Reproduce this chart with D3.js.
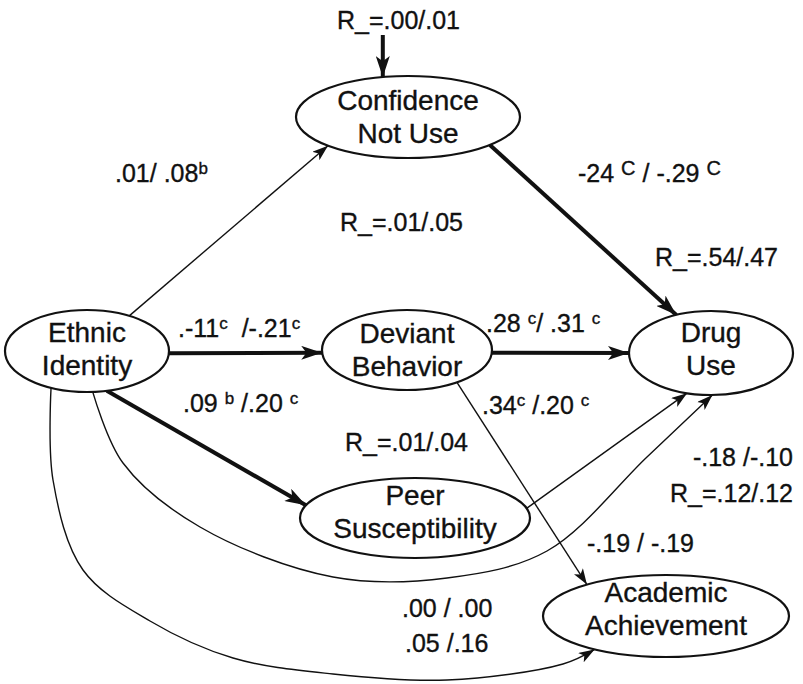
<!DOCTYPE html>
<html>
<head>
<meta charset="utf-8">
<script src="https://cdn.jsdelivr.net/npm/d3@7"></script>
<style>
  body { margin: 0; background: #fff; }
  text { font-family: "Liberation Sans", Arial, Helvetica, sans-serif; fill: #111; stroke: #111; stroke-width: 0.35px; }
</style>
</head>
<body>
<svg id="chart" width="803" height="684"></svg>
<script>
// constructs of the path model
const nodeIds = ["eth", "conf", "dev", "drug", "peer", "acad"];
const nodeLines = [["Ethnic", "Identity"], ["Confidence", "Not Use"], ["Deviant", "Behavior"],
                   ["Drug", "Use"], ["Peer", "Susceptibility"], ["Academic", "Achievement"]];

// path coefficients (group 1 / group 2), "^" marks a superscript letter
const pathFrom = ["eth", "conf", "eth", "eth", "dev", "dev", "peer", "eth", "eth"];
const pathTo   = ["conf", "drug", "dev", "peer", "drug", "acad", "drug", "drug", "acad"];
const pathBold = [false, true, true, true, true, false, false, false, false];
const pathLabels = [".01/ .08^b", "-24 ^C / -.29 ^C", ".-11^c  /-.21^c", ".09 ^b /.20 ^c",
                    ".28 ^c/ .31 ^c", ".34^c /.20 ^c", "-.18 /-.10", ".00 / .00", "-.19 / -.19"];
const extraLabels = [".05 /.16"];

// explained variance
const rTargets = ["conf", "conf", "drug", "peer", "acad"];
const rLabels = ["R_=.00/.01", "R_=.01/.05", "R_=.54/.47", "R_=.01/.04", "R_=.12/.12"];

// ---- layout (pixels) ----
const nodePos = {
  eth:  {cx: 87,  cy: 351, rx: 82,  ry: 41, ty: -19},
  conf: {cx: 408, cy: 117, rx: 112, ry: 41, ty: -17},
  dev:  {cx: 407, cy: 350, rx: 85,  ry: 40, ty: -17},
  drug: {cx: 711, cy: 353, rx: 82,  ry: 42, ty: -21},
  peer: {cx: 415, cy: 518, rx: 115, ry: 40, ty: -23},
  acad: {cx: 666, cy: 616, rx: 123, ry: 41, ty: -24}
};
// boundary angles (deg) where each path leaves / enters, plus curve waypoints
const pathGeom = [
  {a0: -59, a1: 135.6},
  {a0: 43, a1: -115},
  {a0: 3, a1: 176},
  {a0: 76, a1: -161.5},
  {a0: 4, a1: 180},
  {a0: 54, a1: -130},
  {a0: -14, a1: 107},
  {a0: 86, a1: 89, via: [[123, 463], [200, 527], [333, 577], [447, 578], [547, 551], [647, 457]]},
  {a0: 116, a1: 125.5, via: [[53, 480], [83, 570], [150, 621], [233, 658], [333, 674], [447, 680], [563, 664]]}
];
const pathLabelPos = [[115, 182, "start"], [578, 182, "start"], [178, 337, "start"], [183, 412, "start"],
                      [486, 332, "start"], [482, 414, "start"], [793, 466, "end"], [402, 617, "start"], [587, 552, "start"]];
const extraLabelPos = [[405, 652, "start"]];
const rLabelPos = [[337, 29, "start"], [340, 231, "start"], [655, 266, "start"], [345, 451, "start"], [793, 502, "end"]];

const svg = d3.select("#chart");
const defs = svg.append("defs");

function marker(id, len, half) {
  defs.append("marker")
    .attr("id", id)
    .attr("markerUnits", "userSpaceOnUse")
    .attr("viewBox", `0 ${-half} ${len} ${half * 2}`)
    .attr("refX", len).attr("refY", 0)
    .attr("markerWidth", len).attr("markerHeight", half * 2)
    .attr("orient", "auto")
    .append("path")
      .attr("d", `M0,${-half}L${len},0L0,${half}L${len * 0.25},0Z`)
      .attr("fill", "#111");
}
marker("headBold", 21, 7);
marker("headThin", 16, 5.5);

const onEllipse = (id, deg) => {
  const n = nodePos[id], t = deg * Math.PI / 180;
  return [n.cx + n.rx * Math.cos(t), n.cy + n.ry * Math.sin(t)];
};

const line = d3.line().curve(d3.curveCatmullRom.alpha(0.5));

const paths = pathFrom.map((f, i) => {
  const g = pathGeom[i];
  const pts = [onEllipse(f, g.a0), ...(g.via || []), onEllipse(pathTo[i], g.a1)];
  return {pts, bold: pathBold[i]};
});

svg.append("g").selectAll("path")
  .data(paths)
  .join("path")
    .attr("d", d => line(d.pts))
    .attr("fill", "none")
    .attr("stroke", "#111")
    .attr("stroke-width", d => d.bold ? 4 : 1.4)
    .attr("marker-end", d => d.bold ? "url(#headBold)" : "url(#headThin)");

// disturbance arrow into Confidence Not Use
const topEnd = onEllipse("conf", -103);
svg.append("path")
  .attr("d", line([[topEnd[0], 35], topEnd]))
  .attr("stroke", "#111").attr("stroke-width", 4)
  .attr("marker-end", "url(#headBold)");

// nodes
const nodeG = svg.append("g").selectAll("g")
  .data(nodeIds)
  .join("g")
    .attr("transform", d => `translate(${nodePos[d].cx},${nodePos[d].cy})`);

nodeG.append("ellipse")
  .attr("rx", d => nodePos[d].rx)
  .attr("ry", d => nodePos[d].ry)
  .attr("fill", "#fff")
  .attr("stroke", "#111")
  .attr("stroke-width", 2.2);

nodeG.each(function(d, i) {
  const ty = nodePos[d].ty;
  d3.select(this).selectAll("text")
    .data(nodeLines[i])
    .join("text")
      .attr("text-anchor", "middle")
      .attr("y", (t, j) => ty + 10 + j * 33)
      .style("font-size", "28px")
      .text(t => t);
});

// labels with superscripts
function addLabel(str, pos) {
  const txt = svg.append("text")
    .attr("x", pos[0]).attr("y", pos[1])
    .attr("text-anchor", pos[2])
    .style("font-size", "25px")
    .style("white-space", "pre");
  const parts = str.split("^");
  let shift = 0;
  parts.forEach((p, k) => {
    let normal = p;
    if (k > 0) {
      const s = p[0];
      const upper = s === s.toUpperCase();
      shift = upper ? 7 : 8;
      txt.append("tspan")
        .attr("dy", -shift)
        .style("font-size", upper ? "20px" : "17px")
        .text(s);
      normal = p.slice(1);
    }
    if (normal.length) {
      txt.append("tspan")
        .attr("dy", shift)
        .text(normal);
      shift = 0;
    }
  });
}

pathLabels.forEach((s, i) => addLabel(s, pathLabelPos[i]));
extraLabels.forEach((s, i) => addLabel(s, extraLabelPos[i]));
rLabels.forEach((s, i) => addLabel(s, rLabelPos[i]));
</script>
</body>
</html>
